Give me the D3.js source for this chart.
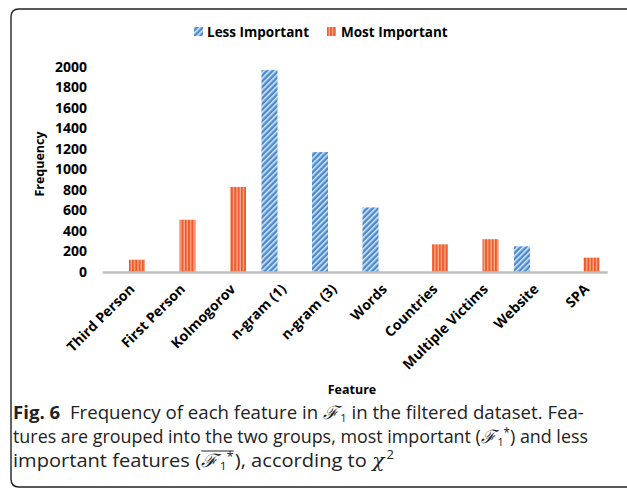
<!DOCTYPE html>
<html><head><meta charset="utf-8">
<script src="https://cdn.jsdelivr.net/npm/d3@7"></script>
<style>body{margin:0;background:#fff}svg{display:block}</style>
</head><body>
<svg id="c" width="627" height="488"></svg>
<script>
const categories = ["Third Person","First Person","Kolmogorov","n-gram (1)","n-gram (3)","Words","Countries","Multiple Victims","Website","SPA"];
const seriesNames = ["Less Important","Most Important"];
const lessImportant = [null,null,null,1970,1170,630,null,null,250,null];
const mostImportant = [120,510,830,null,null,null,270,320,null,140];
const yTicks = [0,200,400,600,800,1000,1200,1400,1600,1800,2000];

const svg = d3.select("#c");
const defs = svg.append("defs");
const pb = defs.append("pattern").attr("id","pBlue").attr("patternUnits","userSpaceOnUse")
  .attr("width",4).attr("height",4).attr("patternTransform","rotate(45)");
pb.append("rect").attr("width",4).attr("height",4).attr("fill","#4a8ad0");
pb.append("rect").attr("x",0).attr("width",1.6).attr("height",4).attr("fill","#d6e6f6");
const po = defs.append("pattern").attr("id","pOrange").attr("patternUnits","userSpaceOnUse")
  .attr("width",3.3).attr("height",4);
po.append("rect").attr("width",3.3).attr("height",4).attr("fill","#f05a2c");
po.append("rect").attr("x",2).attr("width",1.3).attr("height",4).attr("fill","#f8b090");
const fills = ["url(#pBlue)","url(#pOrange)"];

svg.append("path").attr("d","M640,9 H19 Q11,9 11,17 V479 Q11,487 19,487 H640")
  .attr("fill","none").attr("stroke","#222").attr("stroke-width",1.4);

const x0 = d3.scaleBand().domain(categories).range([102.25,607.25]).padding(0);
const x1 = d3.scaleBand().domain(seriesNames).range([7.75,42.75]).paddingInner(3/19).paddingOuter(0);
const y = d3.scaleLinear().domain([0,2000]).range([272,67]);

const font = "'Open Sans', sans-serif";

const ya = svg.append("g").attr("transform","translate(95,0)")
  .call(d3.axisLeft(y).tickValues(yTicks).tickSize(0).tickPadding(8).tickFormat(d3.format("d")));
ya.select(".domain").remove();
ya.selectAll("text").attr("font-family",font).attr("font-weight","bold").attr("font-size",14).attr("fill","#000");

const rows = categories.map((c,i)=>({c, vals:[lessImportant[i],mostImportant[i]]}));
const g = svg.append("g");
rows.forEach(r=>{
  r.vals.forEach((v,j)=>{
    if(v==null) return;
    g.append("rect").attr("x",x0(r.c)+x1(seriesNames[j])).attr("width",x1.bandwidth())
      .attr("y",y(v)).attr("height",y(0)-y(v)).attr("fill",fills[j]);
  });
});

const xa = svg.append("g").attr("transform","translate(0,272)")
  .call(d3.axisBottom(x0).tickSize(0).tickPadding(0));
xa.select(".domain").attr("stroke","#bfbfbf").attr("stroke-width",2.5);
xa.selectAll("text").attr("font-family",font).attr("font-weight","bold").attr("font-size",14)
  .attr("fill","#000").attr("text-anchor","end").attr("dy",0)
  .attr("transform","translate(8,18) rotate(-45)");

svg.append("text").attr("transform","translate(44,164) rotate(-90)").attr("text-anchor","middle")
  .attr("font-family",font).attr("font-weight","bold").attr("font-size",12.5).text("Frequency");
svg.append("text").attr("x",352).attr("y",394).attr("text-anchor","middle")
  .attr("font-family",font).attr("font-weight","bold").attr("font-size",12.5).text("Feature");

const lg = svg.append("g");
[[194,207],[327,341]].forEach((p,i)=>{
  lg.append("rect").attr("x",p[0]).attr("y",27).attr("width",9).attr("height",9).attr("fill",fills[i]);
  lg.append("text").attr("x",p[1]).attr("y",36.5).attr("font-family",font).attr("font-weight","bold")
    .attr("font-size",13.5).text(seriesNames[i]);
});

const capFont = "'Open Sans', sans-serif";
function captionLine(yb, segs, targetW){
  const lgp = svg.append("g");
  let cx = 0; const over = [];
  segs.forEach(s=>{
    const t = lgp.append("text").attr("x",cx).attr("y",s.dy||0)
      .attr("xml:space","preserve").style("white-space","pre")
      .attr("font-family",s.fam||capFont).attr("font-size",s.size||18.5)
      .attr("font-weight",s.bold?"bold":"normal").attr("fill","#222")
      .style("font-style",s.it?"italic":"normal").text(s.t);
    const w = t.node().getComputedTextLength();
    if(s.over) over.push([cx, cx+w]);
    cx += w + (s.gap||0);
  });
  if(over.length){
    lgp.append("line").attr("x1",over[0][0]).attr("x2",over[over.length-1][1]).attr("y1",-16).attr("y2",-16).attr("stroke","#222").attr("stroke-width",1);
  }
  const sx = targetW? targetW/cx : 1;
  lgp.attr("transform",`translate(13,${yb}) scale(${sx},1)`);
}
const F = "\u2131";
captionLine(419,[{t:"Fig. 6",bold:true},{t:"  Frequency of each feature in "},{t:F,fam:"DejaVu Serif",it:true,gap:2},{t:"1",size:11,dy:3},{t:" in the filtered dataset. Fea-"}],571);
captionLine(443,[{t:"tures are grouped into the two groups, most important ("},{t:F,fam:"DejaVu Serif",it:true,gap:2},{t:"1",size:11,dy:3},{t:"*",size:12,dy:-6},{t:") and less"}],575);
captionLine(467,[{t:"important features ("},{t:F,fam:"DejaVu Serif",it:true,over:true,gap:2},{t:"1",size:11,dy:3,over:true},{t:"*",size:12,dy:-6,over:true,gap:1},{t:"), according to "},{t:"\u03c7",fam:"DejaVu Serif",it:true,gap:2},{t:"2",size:12,dy:-8}],381);
</script>
</body></html>
